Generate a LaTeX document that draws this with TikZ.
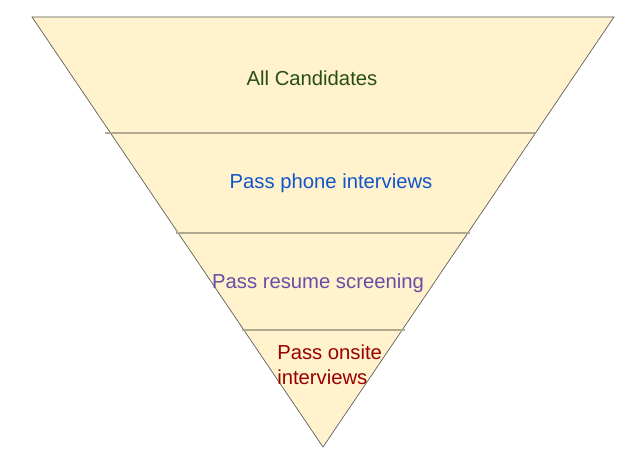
\documentclass[tikz,border=0pt]{standalone}
\usepackage{fontspec}
\setmainfont{Liberation Sans}
\usetikzlibrary{positioning}
\definecolor{funnelfill}{HTML}{FFF2CC}
\definecolor{edgegray}{HTML}{595959}
\definecolor{divgray}{HTML}{B0A990}
\definecolor{allgreen}{HTML}{274E13}
\definecolor{phoneblue}{HTML}{1155CC}
\definecolor{resumepurple}{HTML}{674EA7}
\definecolor{onsitered}{HTML}{990000}

\begin{document}
\begin{tikzpicture}[
  x=0.75pt, y=-0.75pt,
  funnel/.style={fill=funnelfill, draw=edgegray, line width=0.5pt},
  divider/.style={draw=divgray, line width=1.1pt},
  stage/.style={font=\fontsize{15.2}{18.75}\selectfont, inner sep=0pt, anchor=base}
]
\useasboundingbox (0,0) rectangle (640,459);
\coordinate (tl) at (32,17);
\coordinate (tr) at (614,17);
\coordinate (tip) at (323,447);
\draw[funnel] (tl) -- (tr) -- (tip) -- cycle;

% dividers between stages
\coordinate (d1l) at (105,133); \coordinate (d1r) at (535,133);
\coordinate (d2l) at (176,233); \coordinate (d2r) at (470,233);
\coordinate (d3l) at (242,330); \coordinate (d3r) at (405,330);
\draw[divider] (d1l) -- (d1r);
\draw[divider] (d2l) -- (d2r);
\draw[divider] (d3l) -- (d3r);

\node[stage, text=allgreen] (all) at (312,86) {All Candidates};
\node[stage, text=phoneblue] (phone) at (331,189) {Pass phone interviews};
\node[stage, text=resumepurple] (resume) at (318,289) {Pass resume screening};
\node[stage, text=onsitered, anchor=base west, align=left] (onsite) at (277,385) {Pass onsite\\interviews};
\end{tikzpicture}
\end{document}
